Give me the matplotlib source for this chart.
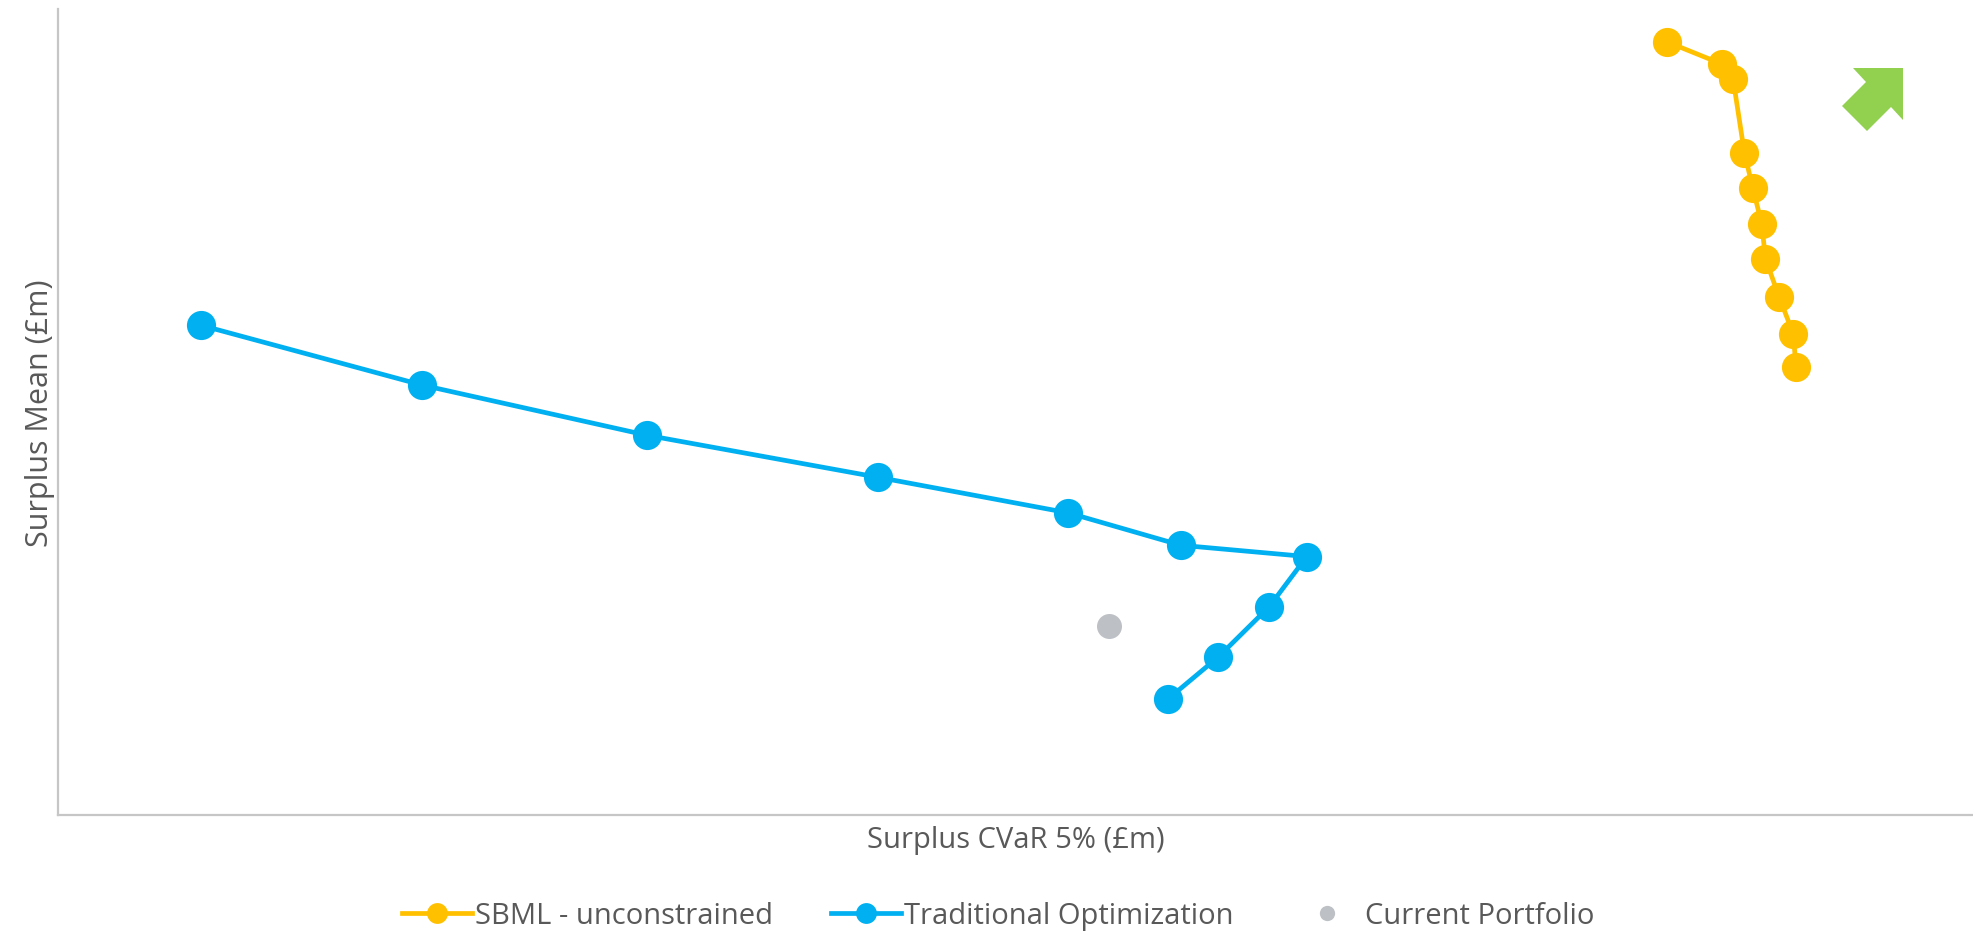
import matplotlib
matplotlib.use("Agg")
import matplotlib.pyplot as plt
from matplotlib.lines import Line2D
from matplotlib.patches import Polygon

plt.rcParams['font.family'] = ['Open Sans', 'DejaVu Sans']

# Efficient frontiers: surplus CVaR 5% (£m) vs surplus mean (£m)
sbml_cvar = [-57.7, -46.0, -43.6, -41.2, -39.4, -37.5, -36.7, -33.8, -30.8, -30.2]
sbml_mean = [141.2, 135.7, 132.0, 113.8, 105.0, 96.2, 87.5, 78.1, 69.0, 60.7]

trad_cvar = [-369.6, -322.5, -274.7, -225.5, -185.0, -161.1, -134.3, -142.3, -153.1, -163.8]
trad_mean = [71.1, 56.3, 43.9, 33.5, 24.7, 16.7, 13.9, 1.5, -10.9, -21.3]

current_cvar = [-176.3]
current_mean = [-3.3]

series_labels = ["SBML - unconstrained", "Traditional Optimization", "Current Portfolio"]
x_label = "Surplus CVaR 5% (£m)"
y_label = "Surplus Mean (£m)"

ORANGE = "#FFC000"
BLUE = "#00B0F0"
GREY = "#BDC0C4"
TEXT = "#595959"
SPINE = "#C6C6C6"
GREEN = "#92D050"

W, H = 1973, 937
fig = plt.figure(figsize=(W / 100, H / 100), dpi=100)
ax = fig.add_axes([58 / W, 1 - 816 / H, (W - 58) / W, (816 - 10) / H])

ax.plot(trad_cvar, trad_mean, color=BLUE, lw=3.4, marker="o", ms=21,
        markeredgewidth=0, solid_capstyle="round", zorder=3)
ax.plot(sbml_cvar, sbml_mean, color=ORANGE, lw=3.4, marker="o", ms=21,
        markeredgewidth=0, solid_capstyle="round", zorder=3)
ax.plot(current_cvar, current_mean, color=GREY, lw=0, marker="o", ms=18,
        markeredgewidth=0, zorder=3)

ax.set_xlim(-400, 7.45)
ax.set_ylim(-50, 149.3)
ax.set_xticks([])
ax.set_yticks([])
for side in ("top", "right"):
    ax.spines[side].set_visible(False)
for side in ("left", "bottom"):
    ax.spines[side].set_color(SPINE)
    ax.spines[side].set_linewidth(1.6)

ax.set_xlabel(x_label, fontsize=21, color=TEXT, labelpad=7)
ax.set_ylabel(y_label, fontsize=22, color=TEXT, labelpad=2.5)

# Green "better" arrow in the top-right corner
arrow_px = [(1853, 69), (1903, 69), (1903, 121), (1891, 108),
            (1867, 132), (1842, 107), (1866, 83)]
arrow = Polygon([(x / W, 1 - y / H) for x, y in arrow_px], closed=True,
                facecolor=GREEN, edgecolor="none", transform=fig.transFigure)
fig.patches.append(arrow)

handles = [
    Line2D([], [], color=ORANGE, lw=3.4, marker="o", ms=15, markeredgewidth=0),
    Line2D([], [], color=BLUE, lw=3.4, marker="o", ms=15, markeredgewidth=0),
    Line2D([], [], color=GREY, lw=0, marker="o", ms=11, markeredgewidth=0),
]
leg = fig.legend(handles, series_labels, loc="center", ncol=3,
                 bbox_to_anchor=(998 / W, 1 - 917 / H), frameon=False,
                 fontsize=21, handlelength=2.4, handletextpad=0.1,
                 columnspacing=2.0)
for t in leg.get_texts():
    t.set_color(TEXT)

fig.savefig("out.png", dpi=100)
